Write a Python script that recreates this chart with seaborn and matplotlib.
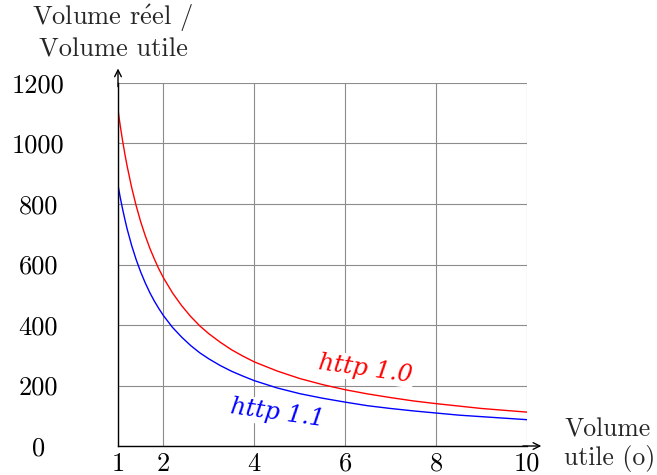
import matplotlib
matplotlib.use("Agg")
import matplotlib.pyplot as plt
import seaborn as sns
import pandas as pd

x_vals = [1, 1.05, 1.1, 1.15, 1.2, 1.3, 1.4, 1.5, 1.6, 1.7, 1.8, 1.9, 2, 2.2, 2.4, 2.6, 2.8,
          3, 3.25, 3.5, 3.75, 4, 4.5, 5, 5.5, 6, 6.5, 7, 7.5, 8, 8.5, 9, 9.5, 10]
http10 = [1111, 1058, 1010, 966, 926, 855, 794, 741, 695, 654, 618, 585, 556, 506, 464, 428, 397,
          371, 343, 318, 297, 278, 248, 223, 203, 186, 172, 160, 149, 140, 132, 124, 118, 112]
http11 = [862, 821, 784, 750, 718, 663, 616, 575, 539, 507, 479, 454, 431, 392, 360, 332, 308,
          288, 266, 247, 231, 216, 192, 173, 158, 145, 133, 124, 116, 109, 102, 97, 92, 87]
series_names = ["http 1.0", "http 1.1"]
series_colors = ["#ff0000", "#0000ff"]
x_ticks = [1, 2, 4, 6, 8, 10]
y_ticks = [0, 200, 400, 600, 800, 1000, 1200]
y_label = "Volume r$\\acute{\\mathrm{e}}$el /\nVolume utile"
x_label = "Volume\nutile (o)"

sns.set_theme(style="white")
plt.rcParams['font.family'] = ['cmr10', 'DejaVu Serif']
plt.rcParams['mathtext.fontset'] = 'cm'
plt.rcParams['axes.formatter.use_mathtext'] = True

df = pd.DataFrame({
    "x": x_vals * 2,
    "y": http10 + http11,
    "serie": [series_names[0]] * len(x_vals) + [series_names[1]] * len(x_vals),
})

fig = plt.figure(figsize=(6.57, 4.75), dpi=100)
ax = fig.add_axes([118/657, 1 - 446/475, (527-118)/657, (446-83)/475])

sns.lineplot(data=df, x="x", y="y", hue="serie", palette=series_colors,
             hue_order=series_names, ax=ax, legend=False, linewidth=1.0, zorder=3)

ax.set_xlim(1, 10)
ax.set_ylim(0, 1200)
ax.set_xticks(x_ticks)
ax.set_yticks(y_ticks)
ax.set_xticklabels([str(v) for v in x_ticks])
ax.set_yticklabels([str(v) for v in y_ticks])
ax.set_xlabel("")
ax.set_ylabel("")
ax.grid(True, color="#8c8c8c", linewidth=0.8, zorder=1)
ax.set_axisbelow(True)
for s in ["top", "right"]:
    ax.spines[s].set_visible(False)
for s in ["left", "bottom"]:
    ax.spines[s].set_color("black")
    ax.spines[s].set_linewidth(1.0)
    ax.spines[s].set_zorder(4)

ax.tick_params(axis="both", which="both", length=3, direction="inout",
               color="#8c8c8c", labelsize=19, labelcolor="black")
ax.tick_params(axis="x", pad=3)
ax.tick_params(axis="y", pad=56)
for lab in ax.get_yticklabels():
    lab.set_horizontalalignment("center")

# axis arrows
ax.annotate("", xy=(1.035, 0), xytext=(0.99, 0), xycoords="axes fraction",
            arrowprops=dict(arrowstyle="->", color="black", lw=1.0, shrinkA=0, shrinkB=0))
ax.annotate("", xy=(0, 1.04), xytext=(0, 0.99), xycoords="axes fraction",
            arrowprops=dict(arrowstyle="->", color="black", lw=1.0, shrinkA=0, shrinkB=0))

fig.text(113/657, 1 - 32/475, y_label, ha="center", va="center", fontsize=19,
         linespacing=1.2)
fig.text(564/657, 1 - 445/475, x_label, ha="left", va="center", fontsize=18.5,
         linespacing=1.2)

ax.text(6.45, 255, series_names[0], color=series_colors[0], fontsize=17,
        fontstyle="italic", family="DejaVu Serif", rotation=-8, ha="center", va="center",
        bbox=dict(facecolor="white", edgecolor="none", pad=1), zorder=5)
ax.text(4.5, 108, series_names[1], color=series_colors[1], fontsize=17,
        fontstyle="italic", family="DejaVu Serif", rotation=-8, ha="center", va="center",
        bbox=dict(facecolor="white", edgecolor="none", pad=1), zorder=5)

fig.savefig("out.png", dpi=100)
